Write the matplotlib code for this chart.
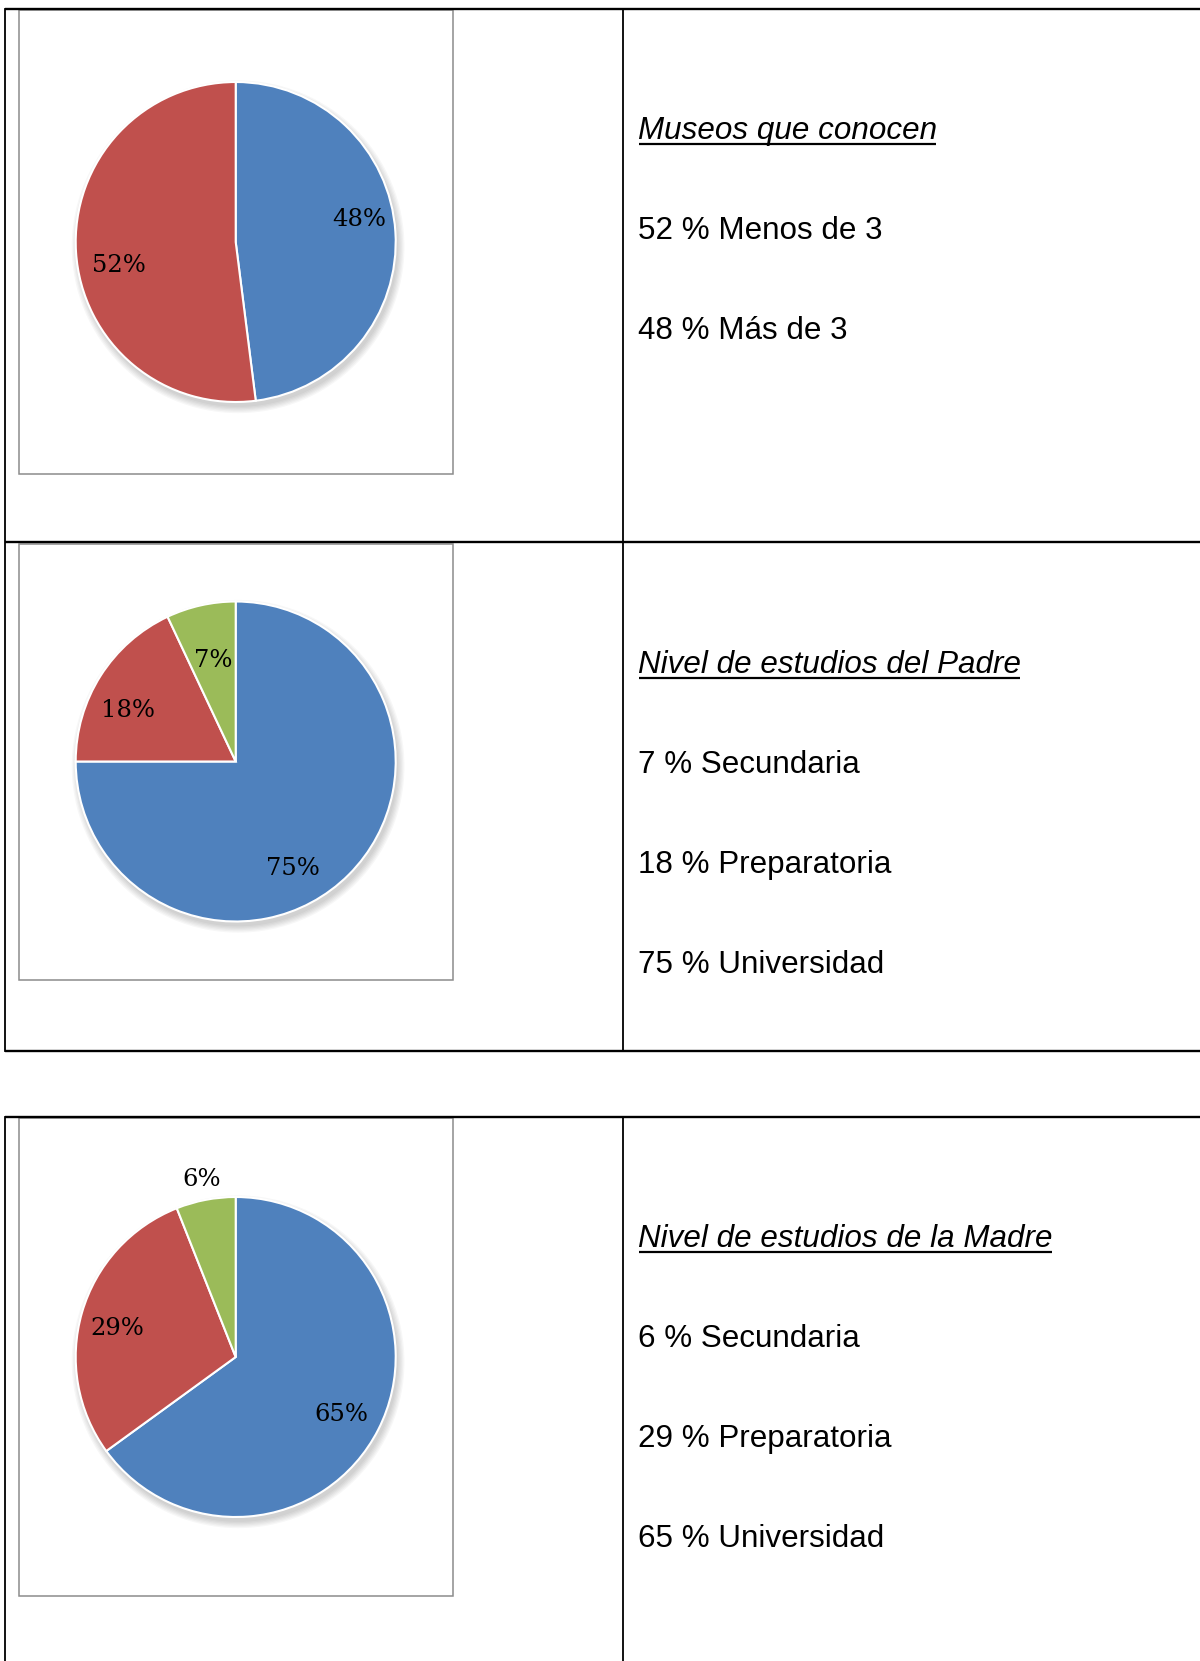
import matplotlib.pyplot as plt
from matplotlib.patches import Rectangle, Circle

# Datos
titulos = ['Museos que conocen', 'Nivel de estudios del Padre', 'Nivel de estudios de la Madre']

museos_cat = ['Más de 3', 'Menos de 3']
museos_val = [48, 52]

padre_cat = ['Universidad', 'Preparatoria', 'Secundaria']
padre_val = [75, 18, 7]

madre_cat = ['Universidad', 'Preparatoria', 'Secundaria']
madre_val = [65, 29, 6]

# orden de las lineas de texto a la derecha (indices en cada serie)
orden_texto = [[1, 0], [2, 1, 0], [2, 1, 0]]

colores = ['#4F81BD', '#C0504D', '#9BBB59']

# posiciones de las etiquetas dentro de cada pastel (en radios)
pos_etiquetas = [
    [(0.77, 0.14), (-0.73, -0.15)],
    [(0.36, -0.67), (-0.67, 0.32), (-0.14, 0.63)],
    [(0.66, -0.36), (-0.74, 0.18), (-0.21, 1.11)],
]

W, H = 1200, 1661
fig = plt.figure(figsize=(W / 100, H / 100), dpi=100)
ax = fig.add_axes([0, 0, 1, 1])
ax.set_xlim(0, W)
ax.set_ylim(H, 0)
ax.axis('off')

# Tablas
lw_out = 1.7
lw_in = 1.3
# tabla 1
for y in (8.5, 542, 1051):
    ax.plot([5, W + 5], [y, y], color='black', lw=lw_out, solid_capstyle='butt')
ax.plot([5, 5], [8.5, 1051], color='black', lw=lw_in)
ax.plot([623, 623], [8.5, 1051], color='black', lw=lw_in)
# tabla 2
ax.plot([5, W + 5], [1117, 1117], color='black', lw=lw_out, solid_capstyle='butt')
ax.plot([5, 5], [1117, H + 5], color='black', lw=lw_in)
ax.plot([623, 623], [1117, H + 5], color='black', lw=lw_in)

# Marcos grises de los graficos
marcos = [(10, 474), (544, 980), (1118, 1596)]
for y0, y1 in marcos:
    ax.add_patch(Rectangle((19, y0), 434, y1 - y0, facecolor='white',
                           edgecolor='#8c8c8c', lw=1.1))

# Pasteles
cx, r = 235.7, 160
m = 1.15  # margen del eje para que la sombra no se corte
centros_y = [242, 761.5, 1357]
series = [museos_val, padre_val, madre_val]

for i, (cy, vals) in enumerate(zip(centros_y, series)):
    R = r * m
    pax = fig.add_axes([(cx - R) / W, 1 - (cy + R) / H, 2 * R / W, 2 * R / H])
    # sombra suave
    for k in range(6):
        pax.add_patch(Circle((0.015, -0.03), 1.0 + 0.008 * k, color='black',
                             alpha=0.03, lw=0, zorder=0))
    pax.pie(vals, colors=colores[:len(vals)], startangle=90, counterclock=False,
            wedgeprops=dict(edgecolor='white', linewidth=1.5))
    pax.set_xlim(-m, m)
    pax.set_ylim(-m, m)
    for v, (dx, dy) in zip(vals, pos_etiquetas[i]):
        pax.text(dx, dy, f'{v}%', ha='center', va='center', fontsize=17.5,
                 family='DejaVu Serif', color='black', clip_on=False)

# Textos a la derecha
tx = 638
base_titulo = [139, 673, 1247]
cats = [museos_cat, padre_cat, madre_cat]
titulos_txt = []
for i, yb in enumerate(base_titulo):
    t = ax.text(tx, yb, titulos[i], fontsize=22.6, family='Liberation Sans',
                style='italic', va='baseline', ha='left')
    titulos_txt.append((t, yb))
    for j, idx in enumerate(orden_texto[i]):
        ax.text(tx, yb + 100 * (j + 1), f'{series[i][idx]} % {cats[i][idx]}',
                fontsize=22.6, family='Liberation Sans', va='baseline', ha='left')

# Subrayado de titulos
fig.canvas.draw()
renderer = fig.canvas.get_renderer()
inv = ax.transData.inverted()
for t, yb in titulos_txt:
    bb = t.get_window_extent(renderer)
    x0 = inv.transform((bb.x0, bb.y0))[0]
    x1 = inv.transform((bb.x1, bb.y0))[0]
    ax.plot([x0 + 1, x1 - 1], [yb + 4.5, yb + 4.5], color='black', lw=1.6,
            solid_capstyle='butt')

fig.savefig('out.png', dpi=100)
